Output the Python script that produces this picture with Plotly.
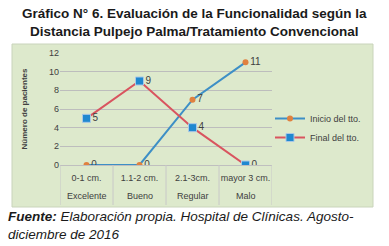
import plotly.graph_objects as go

calidad = ["Excelente", "Bueno", "Regular", "Malo"]
distancia = ["0-1 cm.", "1.1-2 cm.", "2.1-3cm.", "mayor 3 cm."]
inicio = [0, 0, 7, 11]
final = [5, 9, 4, 0]
y_ticks = [0, 2, 4, 6, 8, 10, 12]

FONT = "Liberation Sans, Arial"
tickfont = dict(family=FONT, size=9, color="#404040")

L, R, T, B = 60, 117, 53, 81
PW, PH = 389 - L - R, 246 - T - B


def px(xp):
    return (xp - L) / PW


def py(yp):
    return (246 - B - yp) / PH


fig = go.Figure()
fig.add_trace(go.Scatter(
    x=distancia, y=inicio, name="Inicio del tto.", mode="lines+markers+text",
    line=dict(color="#3d8fc6", width=2),
    marker=dict(symbol="circle", size=6, color="#e0813f"),
    text=[str(v) for v in inicio], textposition="middle right",
    textfont=dict(family=FONT, size=10, color="#404040"),
))
fig.add_trace(go.Scatter(
    x=distancia, y=final, name="Final del tto.", mode="lines+markers+text",
    line=dict(color="#d9545f", width=2),
    marker=dict(symbol="square", size=8, color="#1f88d0",
                line=dict(color="#a9c8e6", width=1)),
    text=[str(v) for v in final], textposition="middle right",
    textfont=dict(family=FONT, size=10, color="#404040"),
))

shapes = [dict(type="rect", xref="paper", yref="paper",
               x0=px(12), x1=px(373), y0=py(207), y1=py(44),
               fillcolor="#dde9cc", line=dict(color="#c9d4bb", width=1), layer="below")]
for i in range(len(distancia) + 1):
    shapes.append(dict(type="line", xref="x", yref="paper",
                       x0=i - 0.5, x1=i - 0.5, y0=py(205), y1=0,
                       line=dict(color="#c8c8c8", width=1)))

annotations = [
    dict(text="<b>Gráfico N° 6. Evaluación de la Funcionalidad según la<br>Distancia Pulpejo Palma/Tratamiento Convencional</b>",
         xref="paper", yref="paper", x=px(194), y=py(4),
         xanchor="center", yanchor="top", showarrow=False, align="center",
         font=dict(family=FONT, size=13.5, color="#1a1a1a")),
    dict(text="<b><i>Fuente:</i></b><i> Elaboración propia. Hospital de Clínicas. Agosto-<br>diciembre de 2016</i>",
         xref="paper", yref="paper", x=px(6), y=py(207),
         xanchor="left", yanchor="top", showarrow=False, align="left",
         font=dict(family=FONT, size=13.5, color="#1a1a1a")),
]
for i, c in enumerate(calidad):
    annotations.append(dict(text=c, xref="x", yref="paper", x=i, y=py(196),
                            xanchor="center", yanchor="middle", showarrow=False,
                            font=tickfont))

fig.update_layout(
    width=389, height=246,
    margin=dict(l=L, r=R, t=T, b=B, autoexpand=False),
    paper_bgcolor="white", plot_bgcolor="white",
    showlegend=True,
    legend=dict(x=px(270), y=py(104), xanchor="left", yanchor="top",
                bgcolor="rgba(0,0,0,0)",
                font=dict(family=FONT, size=9, color="#404040"),
                itemwidth=30, tracegroupgap=0),
    xaxis=dict(type="category", tickfont=tickfont, showgrid=False,
               range=[-0.5, 3.5], tickangle=0, ticklabelstandoff=4,
               showline=True, linecolor="#bfbfbf", ticks="",
               automargin=False),
    yaxis=dict(range=[0, 12], tickvals=y_ticks, tickfont=tickfont,
               showgrid=True, gridcolor="#bdbdbd", zeroline=False,
               showline=False, ticks="", automargin=False,
               title=dict(text="<b>Número de pacientes</b>", standoff=20,
                          font=dict(family=FONT, size=8, color="#404040"))),
    shapes=shapes,
    annotations=annotations,
)

fig.write_html("out.html", config={"displayModeBar": False},
               post_script="document.body.style.margin='0';document.body.style.overflow='hidden';")
